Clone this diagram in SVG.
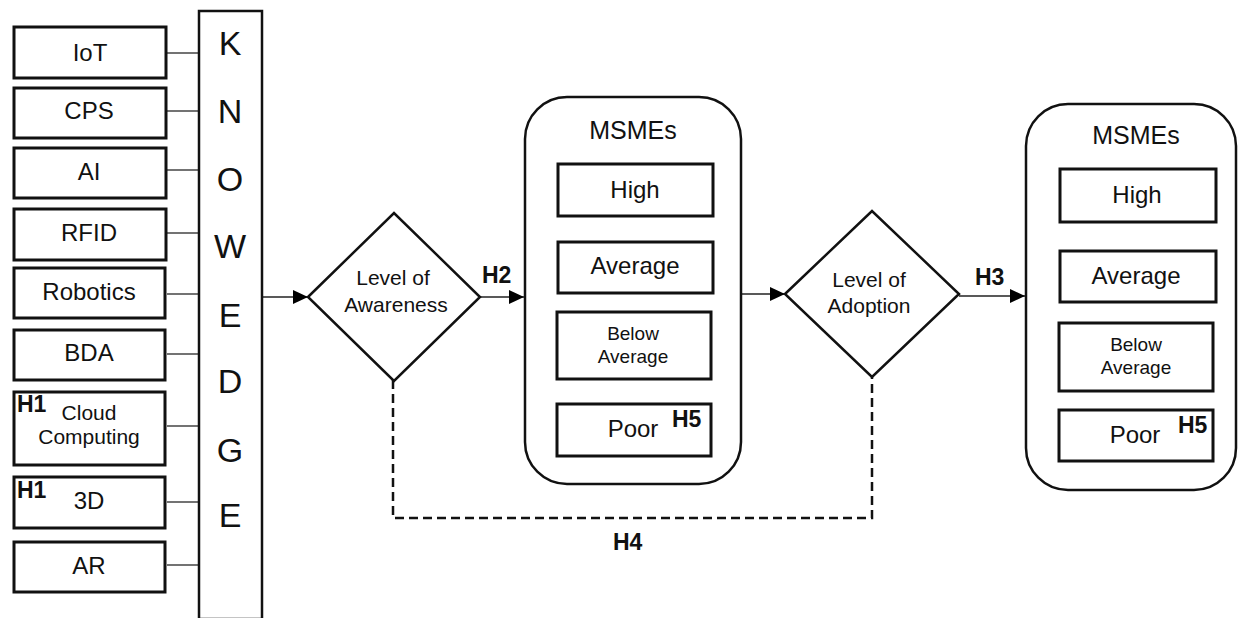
<svg xmlns="http://www.w3.org/2000/svg" width="1238" height="618" viewBox="0 0 1238 618">
<defs>
<marker id="arr" markerUnits="userSpaceOnUse" markerWidth="16" markerHeight="14" refX="15" refY="7" orient="auto">
<path d="M0,0 L15,7 L0,14 Z" fill="#000"/>
</marker>
<style>
.box{fill:#fff;stroke:#111;stroke-width:3}
.kb{fill:#fff;stroke:#111;stroke-width:2.5}
.ibox{fill:#fff;stroke:#111;stroke-width:3}
.round{fill:#fff;stroke:#111;stroke-width:2.5}
.dia{fill:#fff;stroke:#111;stroke-width:2.5}
.t{font-family:"Liberation Sans",Arial,sans-serif;fill:#111;text-anchor:middle}
.s24{font-size:24px}
.s21{font-size:21px}
.s19{font-size:19px}
.s25{font-size:25px}
.big{font-size:34px}
.h{font-family:"Liberation Sans",Arial,sans-serif;font-weight:bold;font-size:23px;fill:#111}
.thin{stroke:#444;stroke-width:1.5;fill:none}
.arrow{stroke:#222;stroke-width:1.5;fill:none;marker-end:url(#arr)}
.dash{stroke:#111;stroke-width:2.5;fill:none;stroke-dasharray:9,5}
</style>
</defs>
<rect width="1238" height="618" fill="#fff"/>

<g id="connectors">
<line class="thin" x1="167" y1="53" x2="199" y2="53"/>
<line class="thin" x1="167" y1="111" x2="199" y2="111"/>
<line class="thin" x1="167" y1="170" x2="199" y2="170"/>
<line class="thin" x1="167" y1="233" x2="199" y2="233"/>
<line class="thin" x1="167" y1="294" x2="199" y2="294"/>
<line class="thin" x1="167" y1="354" x2="199" y2="354"/>
<line class="thin" x1="167" y1="426" x2="199" y2="426"/>
<line class="thin" x1="167" y1="502" x2="199" y2="502"/>
<line class="thin" x1="167" y1="565" x2="199" y2="565"/>
<line class="arrow" x1="263" y1="297" x2="308" y2="297"/>
<line class="arrow" x1="480" y1="297" x2="524" y2="297"/>
<line class="arrow" x1="741" y1="294" x2="785" y2="294"/>
<line class="arrow" x1="959" y1="296" x2="1025" y2="296"/>
<polyline class="dash" points="393,380 393,518 872,518 872,377"/>
<text class="h" x="482" y="283">H2</text>
<text class="h" x="975" y="285">H3</text>
<text class="h" x="613" y="550">H4</text>
</g>

<g id="iot"><rect class="box" x="14" y="27" width="152" height="51"/><text class="t s24" x="90" y="61">IoT</text></g>
<g id="cps"><rect class="box" x="14" y="88" width="152" height="50"/><text class="t s24" x="89" y="119">CPS</text></g>
<g id="ai"><rect class="box" x="14" y="148" width="152" height="50"/><text class="t s24" x="89" y="180">AI</text></g>
<g id="rfid"><rect class="box" x="14" y="209" width="152" height="51"/><text class="t s24" x="89" y="241">RFID</text></g>
<g id="robotics"><rect class="box" x="14" y="268" width="151" height="50"/><text class="t s24" x="89" y="300">Robotics</text></g>
<g id="bda"><rect class="box" x="14" y="330" width="151" height="50"/><text class="t s24" x="89" y="361">BDA</text></g>
<g id="cloud"><rect class="box" x="14" y="392" width="151" height="73"/><text class="h" x="17" y="412">H1</text><text class="t s21" x="89" y="420">Cloud</text><text class="t s21" x="89" y="444">Computing</text></g>
<g id="d3"><rect class="box" x="14" y="477" width="151" height="51"/><text class="h" x="17" y="498">H1</text><text class="t s24" x="89" y="509">3D</text></g>
<g id="ar"><rect class="box" x="14" y="542" width="151" height="50"/><text class="t s24" x="89" y="574">AR</text></g>

<g id="knowledge">
<rect class="kb" x="199" y="11" width="63" height="608"/>
<text class="t big" x="230" y="55">K</text>
<text class="t big" x="230" y="123">N</text>
<text class="t big" x="230" y="191">O</text>
<text class="t big" x="230" y="258">W</text>
<text class="t big" x="230" y="327">E</text>
<text class="t big" x="230" y="393">D</text>
<text class="t big" x="230" y="462">G</text>
<text class="t big" x="230" y="527">E</text>
</g>

<g id="awareness">
<polygon class="dia" points="308,297 394,213 480,297 394,381"/>
<text class="t s21" x="393" y="285">Level of</text>
<text class="t s21" x="396" y="312">Awareness</text>
</g>

<g id="msmes1">
<rect class="round" x="525" y="97" width="216" height="387" rx="42" ry="42"/>
<text class="t s25" x="633" y="139">MSMEs</text>
<rect class="ibox" x="558" y="164" width="155" height="52"/><text class="t s24" x="635" y="198">High</text>
<rect class="ibox" x="558" y="242" width="155" height="51"/><text class="t s24" x="635" y="274">Average</text>
<rect class="ibox" x="557" y="312" width="154" height="67"/><text class="t s19" x="633" y="340">Below</text><text class="t s19" x="633" y="363">Average</text>
<rect class="ibox" x="557" y="404" width="154" height="52"/><text class="t s24" x="633" y="437">Poor</text><text class="h" x="672" y="427">H5</text>
</g>

<g id="adoption">
<polygon class="dia" points="785,294 872,211 959,294 872,377"/>
<text class="t s21" x="869" y="287">Level of</text>
<text class="t s21" x="869" y="313">Adoption</text>
</g>

<g id="msmes2">
<rect class="round" x="1026" y="104" width="210" height="386" rx="42" ry="42"/>
<text class="t s25" x="1136" y="144">MSMEs</text>
<rect class="ibox" x="1060" y="169" width="156" height="53"/><text class="t s24" x="1137" y="203">High</text>
<rect class="ibox" x="1060" y="251" width="156" height="51"/><text class="t s24" x="1136" y="284">Average</text>
<rect class="ibox" x="1059" y="323" width="154" height="68"/><text class="t s19" x="1136" y="351">Below</text><text class="t s19" x="1136" y="374">Average</text>
<rect class="ibox" x="1059" y="410" width="154" height="51"/><text class="t s24" x="1135" y="443">Poor</text><text class="h" x="1178" y="433">H5</text>
</g>
</svg>
